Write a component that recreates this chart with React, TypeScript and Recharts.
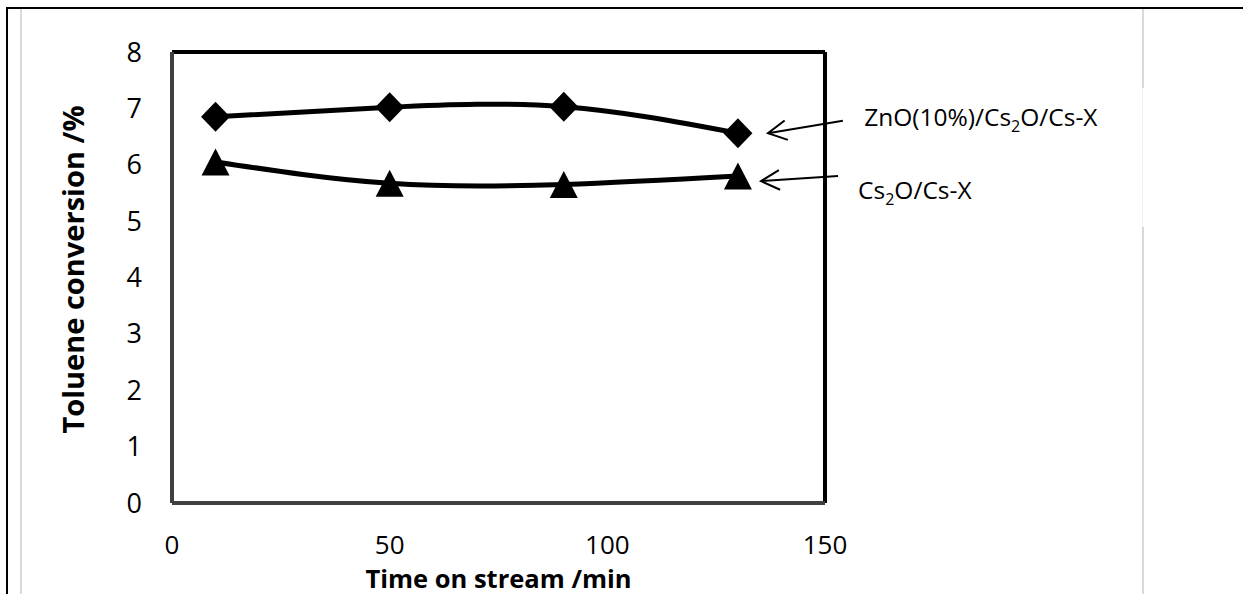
import {
  LineChart,
  Line,
  XAxis,
  YAxis,
  ReferenceLine,
  ReferenceDot,
  Label
} from "recharts";

const timeMin = [10, 50, 90, 130];
const znoConversion = [6.85, 7.02, 7.03, 6.56];
const cs2oConversion = [6.05, 5.67, 5.65, 5.8];
const xTicks = [0, 50, 100, 150];
const yTicks = [0, 1, 2, 3, 4, 5, 6, 7, 8];

// annotation arrows (data units): tail near the text, tip at the last marker
const arrowTailX = [154.1, 153.0];
const arrowTailY = [6.78, 5.8];
const arrowTipX = [136.9, 135.3];
const arrowTipY = [6.56, 5.71];
const labelX = [159, 157.6];
const labelY = [6.85, 5.55];
// label text split as [before subscript, subscript, after]
const labelParts = [
  ["ZnO(10%)/Cs", "2", "O/Cs-X"],
  ["Cs", "2", "O/Cs-X"]
];

const data = timeMin.map((t, i) => ({
  time: t,
  zno: znoConversion[i],
  cs2o: cs2oConversion[i]
}));

const FONT = "'Open Sans', sans-serif";

const Diamond = (props: any) => {
  const { cx, cy, index } = props;
  if (cx == null || cy == null) return <g key={`d-${index}`} />;
  const w = 14.5;
  const h = 15;
  return (
    <polygon
      key={`d-${index}`}
      points={`${cx},${cy - h} ${cx + w},${cy} ${cx},${cy + h} ${cx - w},${cy}`}
      fill='#000'
    />
  );
};

const Triangle = (props: any) => {
  const { cx, cy, index } = props;
  if (cx == null || cy == null) return <g key={`t-${index}`} />;
  const w = 14;
  const h = 13.5;
  return (
    <polygon
      key={`t-${index}`}
      points={`${cx},${cy - h} ${cx + w},${cy + h} ${cx - w},${cy + h}`}
      fill='#000'
    />
  );
};

const Arrow = (props: any) => {
  const { x1, y1, x2, y2 } = props;
  // x1,y1 = tail ; x2,y2 = tip
  const ang = Math.atan2(y1 - y2, x1 - x2);
  const len = 21;
  const spread = (28 * Math.PI) / 180;
  const a1x = x2 + len * Math.cos(ang + spread);
  const a1y = y2 + len * Math.sin(ang + spread);
  const a2x = x2 + len * Math.cos(ang - spread);
  const a2y = y2 + len * Math.sin(ang - spread);
  return (
    <g stroke='#000' strokeWidth={2} fill='none'>
      <line x1={x1} y1={y1} x2={x2} y2={y2} />
      <polyline points={`${a1x},${a1y} ${x2},${y2} ${a2x},${a2y}`} />
    </g>
  );
};

const AnnotationText = (parts: string[]) => (props: any) => {
  const { cx, cy } = props;
  return (
    <text
      x={cx}
      y={cy}
      dy='0.36em'
      fontFamily={FONT}
      fontSize={24.5}
      fill='#000'
    >
      <tspan>{parts[0]}</tspan>
      <tspan fontSize={16} dy={6}>
        {parts[1]}
      </tspan>
      <tspan dy={-6}>{parts[2]}</tspan>
    </text>
  );
};

const YTitle = (props: any) => {
  const { viewBox } = props;
  const cx = viewBox.x + 74;
  const cy = viewBox.y + viewBox.height / 2 - 8;
  return (
    <text
      x={cx}
      y={cy}
      dy='0.36em'
      textAnchor='middle'
      transform={`rotate(-90, ${cx}, ${cy})`}
      fontFamily={FONT}
      fontWeight={700}
      fontSize={29}
      fill='#000'
    >
      Toluene conversion /%
    </text>
  );
};

const XTitle = (props: any) => {
  const { viewBox } = props;
  return (
    <text
      x={viewBox.x + viewBox.width / 2}
      y={viewBox.y + viewBox.height - 6}
      textAnchor='middle'
      fontFamily={FONT}
      fontWeight={700}
      fontSize={25.5}
      fill='#000'
    >
      Time on stream /min
    </text>
  );
};

const TolueneChart = () => {
  return (
    <div
      style={{
        position: "absolute",
        left: 0,
        top: 0,
        width: 1243,
        height: 594,
        background: "#fff",
        overflow: "hidden"
      }}
    >
      {/* page frame lines */}
      <div style={{ position: "absolute", left: 6, top: 7, right: 0, height: 2, background: "#000" }} />
      <div style={{ position: "absolute", left: 6, top: 7, bottom: 0, width: 2, background: "#000" }} />
      <div style={{ position: "absolute", left: 20, top: 9, bottom: 0, width: 2, background: "#d9d9d9" }} />
      <div style={{ position: "absolute", left: 1142, top: 9, height: 79, width: 2, background: "#d9d9d9" }} />
      <div style={{ position: "absolute", left: 1142, top: 88, height: 139, width: 1, background: "#f2f2f2" }} />
      <div style={{ position: "absolute", left: 1142, top: 227, bottom: 0, width: 2, background: "#d9d9d9" }} />

      <LineChart
        width={1243}
        height={594}
        data={data}
        margin={{ top: 52, right: 418, left: 0, bottom: 0 }}
        style={{ position: "absolute", left: 0, top: 0 }}
      >
        <XAxis
          dataKey='time'
          type='number'
          domain={[0, 150]}
          ticks={xTicks}
          height={91}
          tickLine={false}
          tickSize={0}
          tickMargin={33}
          axisLine={{ stroke: "#404040", strokeWidth: 4 }}
          tick={{ fontSize: 26, fill: "#000", fontFamily: FONT }}
        >
          <Label content={<XTitle />} />
        </XAxis>
        <YAxis
          type='number'
          domain={[0, 8]}
          ticks={yTicks}
          width={172}
          tickLine={false}
          tickSize={0}
          tickMargin={30}
          axisLine={{ stroke: "#404040", strokeWidth: 4 }}
          tick={{ fontSize: 27, fill: "#000", fontFamily: FONT }}
        >
          <Label content={<YTitle />} />
        </YAxis>
        <ReferenceLine y={0} stroke='#b0b0b0' strokeWidth={2} />
        <ReferenceLine x={0} stroke='#b0b0b0' strokeWidth={2} />
        <ReferenceLine y={8} stroke='#000' strokeWidth={4} />
        <ReferenceLine x={150} stroke='#000' strokeWidth={4} />

        <Line
          type='natural'
          dataKey='zno'
          stroke='#000'
          strokeWidth={5}
          dot={(p: any) => <Diamond {...p} />}
          activeDot={false}
          isAnimationActive={false}
          name='ZnO(10%)/Cs2O/Cs-X'
        />
        <Line
          type='natural'
          dataKey='cs2o'
          stroke='#000'
          strokeWidth={5}
          dot={(p: any) => <Triangle {...p} />}
          activeDot={false}
          isAnimationActive={false}
          name='Cs2O/Cs-X'
        />

        {labelParts.map((parts, i) => (
          <ReferenceLine
            key={`arrow-${i}`}
            segment={[
              { x: arrowTailX[i], y: arrowTailY[i] },
              { x: arrowTipX[i], y: arrowTipY[i] }
            ]}
            ifOverflow='visible'
            shape={(p: any) => <Arrow {...p} />}
          />
        ))}
        {labelParts.map((parts, i) => (
          <ReferenceDot
            key={`label-${i}`}
            x={labelX[i]}
            y={labelY[i]}
            r={0}
            ifOverflow='visible'
            shape={AnnotationText(parts)}
          />
        ))}
      </LineChart>
    </div>
  );
};

export default function App() {
  return <TolueneChart />;
}
